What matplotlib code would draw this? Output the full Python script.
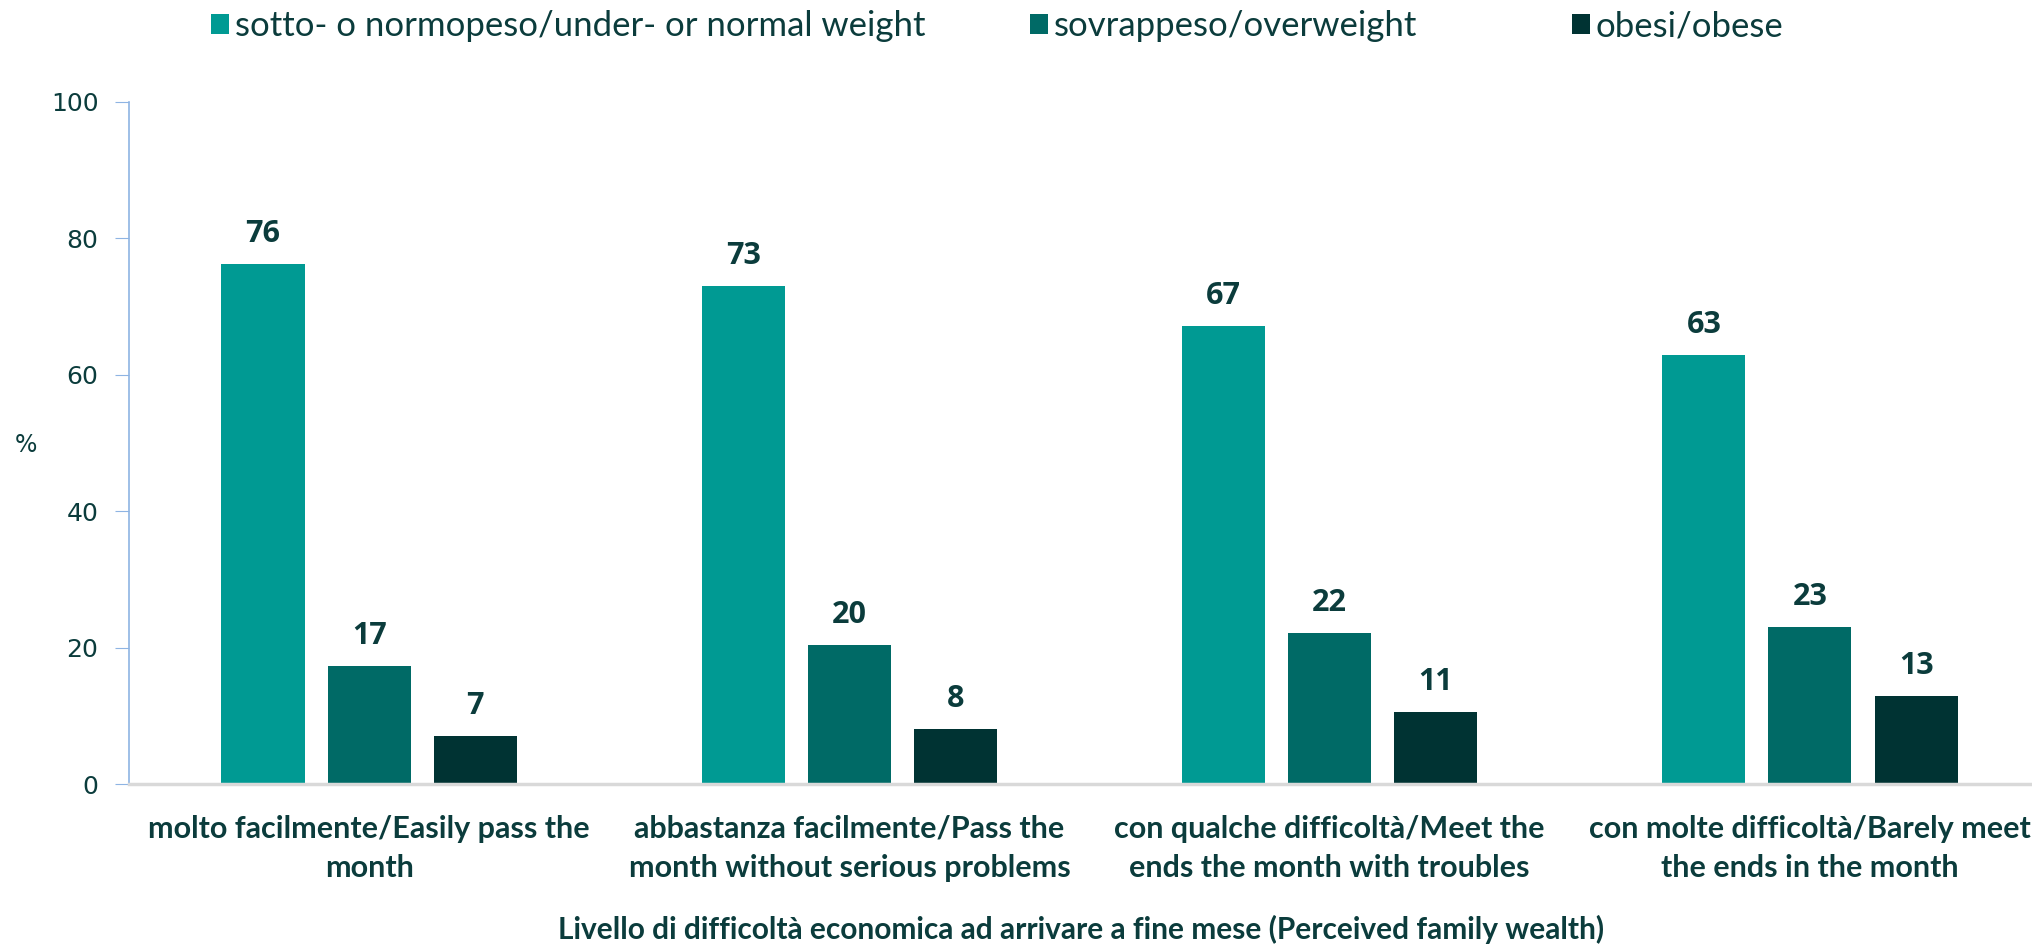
import matplotlib.pyplot as plt
import numpy as np

# data
categories = ["molto facilmente/Easily pass the\nmonth",
              "abbastanza facilmente/Pass the\nmonth without serious problems",
              "con qualche difficoltà/Meet the\nends the month with troubles",
              "con molte difficoltà/Barely meet\nthe ends in the month"]
series_names = ["sotto- o normopeso/under- or normal weight",
                "sovrappeso/overweight",
                "obesi/obese"]
normal = [76.3, 73.0, 67.1, 62.9]
overweight = [17.3, 20.4, 22.2, 23.0]
obese = [7.0, 8.0, 10.6, 12.9]

colors = ["#009A93", "#006A66", "#003333"]
TXT = "#0B3C3C"
FONT = "Lato"

fig = plt.figure(figsize=(20.32, 9.46), dpi=100)
# plot area runs slightly past the right edge, like the original export
ax = fig.add_axes([0.0635, 0.1712, 0.9454, 0.721])

x = np.arange(len(categories))
w = 0.173
step = 0.221
handles = []
for i, (vals, name) in enumerate(zip([normal, overweight, obese], series_names)):
    bars = ax.bar(x + (i - 1) * step, vals, width=w, color=colors[i], label=name)
    handles.append(bars)
    for b, v in zip(bars, vals):
        ax.text(b.get_x() + b.get_width() / 2, v + 2.2, str(int(round(v))),
                ha="center", va="bottom", fontsize=22, fontweight="bold",
                color=TXT, family="Open Sans")

ax.set_xlim(-0.5, len(categories) - 0.5)
ax.set_ylim(0, 100)
ax.set_yticks(range(0, 101, 20))
ax.tick_params(axis="y", direction="out", length=10, color="#8EB4E3",
               labelsize=18, labelcolor=TXT, pad=12)
ax.tick_params(axis="x", length=0, pad=22)
ax.set_xticks(x)
ax.set_xticklabels(categories, fontsize=22, fontweight="bold", color=TXT,
                   family=FONT, linespacing=1.5)

for s in ["top", "right"]:
    ax.spines[s].set_visible(False)
ax.spines["left"].set_color("#8EB4E3")
ax.spines["left"].set_linewidth(1.2)
ax.spines["bottom"].set_color("#D9D9D9")
ax.spines["bottom"].set_linewidth(2.5)

fig.text(0.0128, 0.53, "%", fontsize=17, color=TXT, ha="center", va="center")
fig.text(0.532, 0.017, "Livello di difficoltà economica ad arrivare a fine mese (Perceived family wealth)",
         fontsize=21.5, fontweight="bold", color=TXT, family=FONT, ha="center", va="center")

# one legend per entry so each sits where the original puts it
legend_x = [0.1040, 0.507, 0.7736]
for h, name, lx in zip(handles, series_names, legend_x):
    leg = fig.legend(handles=[h], labels=[name], loc="center left",
                     bbox_to_anchor=(lx, 0.972), frameon=False, borderpad=0,
                     borderaxespad=0, handlelength=0.52, handleheight=0.52,
                     handletextpad=0.15, prop={"family": FONT, "size": 25})
    for t in leg.get_texts():
        t.set_color(TXT)

fig.savefig("out.png", dpi=100)
